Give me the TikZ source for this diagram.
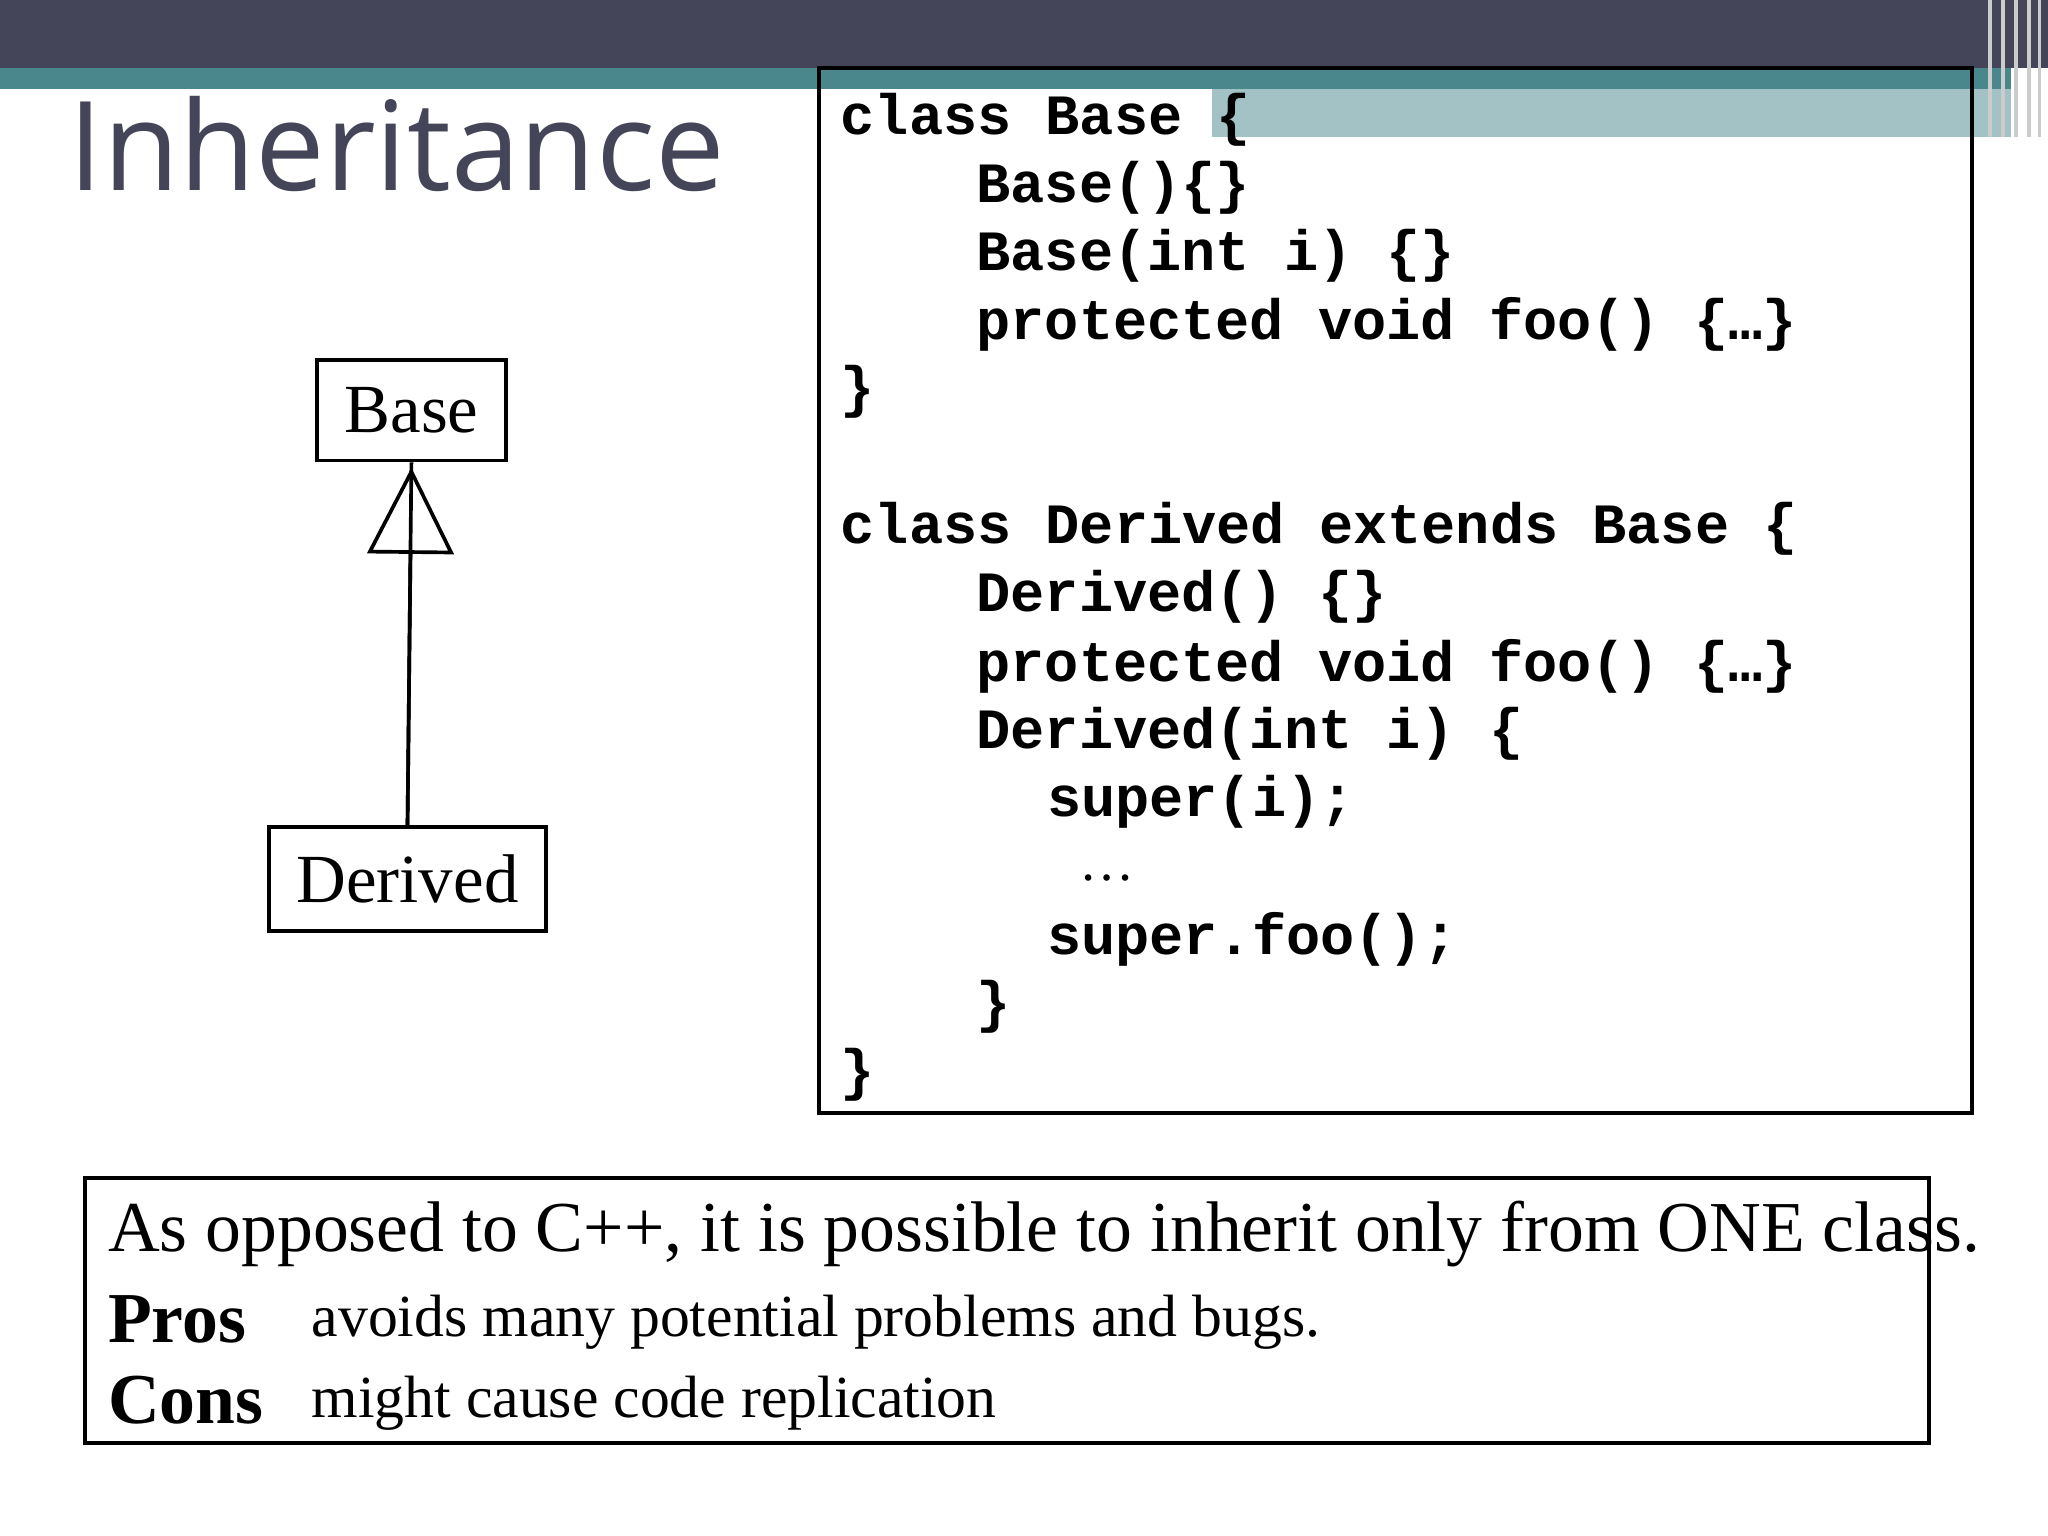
\documentclass[tikz,border=0pt]{standalone}
\usepackage{fontspec}
\setmainfont{Liberation Serif}
\setmonofont{Liberation Mono}
\newfontfamily\titlefont{Open Sans}
\usetikzlibrary{positioning,arrows.meta}
\definecolor{slatebar}{HTML}{454559}
\definecolor{tealbar}{HTML}{4A878C}
\definecolor{paleteal}{HTML}{A3C2C6}
\tikzset{
  umlbox/.style={draw,thick,inner sep=6pt,font=\fontsize{15}{18}\selectfont},
  codeline/.style={anchor=west,inner sep=0pt,font=\ttfamily\bfseries\fontsize{12.4}{14}\selectfont},
  noteline/.style={anchor=west,inner sep=0pt}
}
\begin{document}
\begin{tikzpicture}[x=0.01cm,y=-0.01cm]
    \useasboundingbox (0,0) rectangle (1568,1176);
    % header bands
    \fill[slatebar] (0,0) rectangle (1568,52);
    \fill[tealbar] (0,52) rectangle (1540,68);
    \fill[paleteal] (928,68) rectangle (1540,105);
    \foreach \x in {1522,1532,1542,1552,1560}{
      \fill[gray!40] (\x,0) rectangle (\x+3,105);}
    \node[anchor=west,inner sep=0pt,text=slatebar,font=\titlefont\fontsize{27}{30}\selectfont] (title) at (52,110) {Inheritance};
    % class diagram
    \node[umlbox] (base) at (315,314) {Base};
    \node[umlbox] (derived) at (312,673) {Derived};
    \draw[thick] (derived.north) -- (base.south)
      node[pos=1,sloped,allow upside down] {};
    \draw[thick,-{Triangle[open,length=0.66cm,width=0.66cm]}] (derived.north) -- ([yshift=-0.04cm]base.south);
    % code
    \draw[thick] (627,52) rectangle (1510,852);
    \node[codeline] (c1) at (643,92) {class Base \{};
    \node[codeline] (c2) at (747,144) {Base()\{\}};
    \node[codeline] (c3) at (747,196) {Base(int i) \{\}};
    \node[codeline] (c4) at (747,248) {protected void foo() \{…\}};
    \node[codeline] (c5) at (643,300) {\}};
    \node[codeline] (c6) at (643,405) {class Derived extends Base \{};
    \node[codeline] (c7) at (747,457) {Derived() \{\}};
    \node[codeline] (c8) at (747,510) {protected void foo() \{…\}};
    \node[codeline] (c9) at (747,562) {Derived(int i) \{};
    \node[codeline] (c10) at (801,614) {super(i);};
    \node[codeline,font=\fontsize{12}{14}\selectfont] (c11) at (826,672) {…};
    \node[codeline] (c12) at (801,719) {super.foo();};
    \node[codeline] (c13) at (747,771) {\}};
    \node[codeline] (c14) at (643,823) {\}};
    % note
    \draw[thick] (65,902) rectangle (1477,1105);
    \node[noteline,font=\fontsize{15.6}{18}\selectfont] (n1) at (82,945) {As opposed to C++, it is possible to inherit only from ONE class.};
    \node[noteline,font=\bfseries\fontsize{15.6}{18}\selectfont] (pros) at (82,1010) {Pros};
    \node[noteline,font=\fontsize{13}{16}\selectfont] (prost) at (238,1012) {avoids many potential problems and bugs.};
    \node[noteline,font=\bfseries\fontsize{15.6}{18}\selectfont] (cons) at (82,1072) {Cons};
    \node[noteline,font=\fontsize{13}{16}\selectfont] (const) at (238,1074) {might cause code replication};
\end{tikzpicture}
\end{document}
